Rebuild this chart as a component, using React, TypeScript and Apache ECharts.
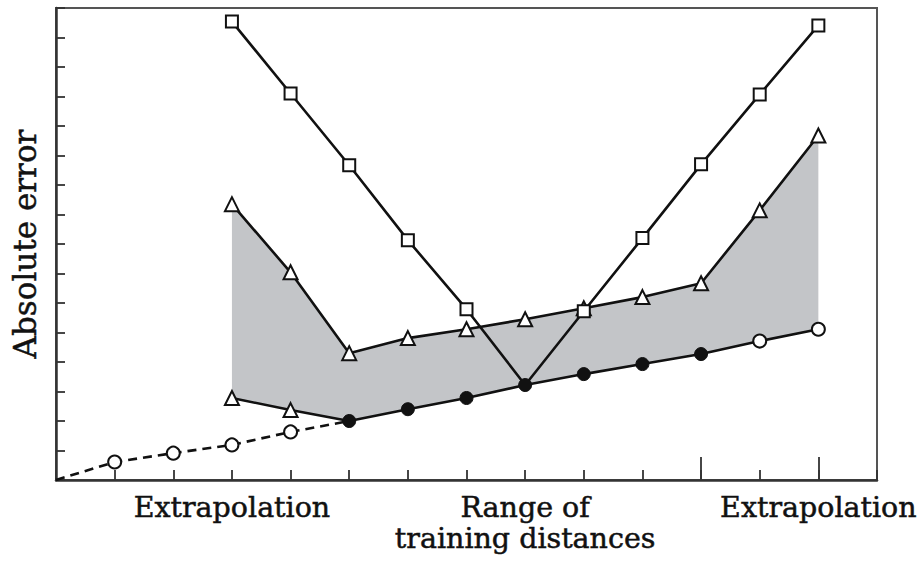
import React, { useEffect, useRef } from "react";
import * as echarts from "echarts";

// x positions: tick index 0..14, y: tick units 0..16
const xLabelValues = [3, 8, 13];
const xLabelTexts = ["Extrapolation", "Range of\ntraining distances", "Extrapolation"];
const longTickValues = [11, 13];

const dashedValues: [number, number][] = [
  [0, 0], [1, 0.61], [2, 0.91], [3, 1.19], [4, 1.63], [5, 2.0],
];
const lowerValues: [number, number][] = [
  [5, 2.0], [6, 2.4], [7, 2.78], [8, 3.22], [9, 3.59], [10, 3.93], [11, 4.27], [12, 4.71], [13, 5.11],
];
const lowerTriangleValues: [number, number][] = [
  [3, 2.78], [4, 2.37], [5, 2.0],
];
const upperTriangleValues: [number, number][] = [
  [3, 9.35], [4, 7.04], [5, 4.3], [6, 4.81], [7, 5.11], [8, 5.45], [9, 5.82], [10, 6.2], [11, 6.67], [12, 9.14], [13, 11.68],
];
const squareValues: [number, number][] = [
  [3, 15.54], [4, 13.1], [5, 10.67], [6, 8.13], [7, 5.79], [8, 3.22], [9, 5.72], [10, 8.2], [11, 10.7], [12, 13.07], [13, 15.41],
];

const INK = "#111";
const FONT = "DejaVu Serif";

export default function App() {
  const ref = useRef<HTMLDivElement>(null);
  useEffect(() => {
    document.body.style.margin = "0";
    if (!ref.current) return;
    const chart = echarts.init(ref.current, undefined, { renderer: "svg" });

    const bandLower: [number, number][] = [
      ...lowerTriangleValues.filter((p) => p[0] < 5),
      ...lowerValues,
    ];

    const lineBase = {
      type: "line" as const,
      xAxisIndex: 0,
      yAxisIndex: 0,
      lineStyle: { color: INK, width: 2.6 },
      itemStyle: { color: "#fff", borderColor: INK, borderWidth: 2 },
      symbolSize: 12,
      z: 3,
    };

    const textBold = { textBorderColor: "#111", textBorderWidth: 0.5 };

    chart.setOption({
      animation: false,
      grid: {
        left: 56,
        top: 8,
        right: 47,
        bottom: 81,
        show: true,
        borderColor: "#555",
        borderWidth: 2,
        backgroundColor: "transparent",
      },
      xAxis: [
        {
          type: "value",
          min: 0,
          max: 14,
          interval: 1,
          axisLine: { show: true, lineStyle: { color: "#333", width: 2.5 } },
          axisTick: { show: true, inside: true, length: 10, lineStyle: { color: "#333", width: 1.8 } },
          axisLabel: {
            show: true,
            customValues: xLabelValues,
            margin: 12,
            color: "#111",
            fontFamily: FONT,
            fontSize: 28.5,
            lineHeight: 31,
            ...textBold,
            formatter: (v: number) => {
              const i = xLabelValues.indexOf(v);
              return i >= 0 ? xLabelTexts[i] : "";
            },
          },
          splitLine: { show: false },
        },
        {
          type: "value",
          position: "bottom",
          min: 0,
          max: 14,
          axisLine: { show: false },
          axisTick: {
            show: true,
            inside: true,
            length: 23,
            customValues: longTickValues,
            lineStyle: { color: "#333", width: 1.8 },
          },
          axisLabel: { show: false },
          splitLine: { show: false },
        },
      ],
      yAxis: {
        type: "value",
        min: 0,
        max: 16,
        interval: 1,
        name: "Absolute error",
        nameLocation: "middle",
        nameRotate: 90,
        nameGap: 16,
        nameTextStyle: { color: "#111", fontFamily: FONT, fontSize: 31, ...textBold },
        axisLine: { show: true, lineStyle: { color: "#333", width: 2.5 } },
        axisTick: { show: true, inside: true, length: 9, lineStyle: { color: "#333", width: 1.8 } },
        axisLabel: { show: false },
        splitLine: { show: false },
      },
      series: [
        {
          name: "band",
          type: "custom",
          xAxisIndex: 0,
          yAxisIndex: 0,
          data: [[3, 0]],
          silent: true,
          z: 1,
          renderItem: (_params: any, api: any) => {
            const pts = [
              ...upperTriangleValues.map((p) => api.coord(p)),
              ...bandLower.slice().reverse().map((p) => api.coord(p)),
            ];
            return {
              type: "polygon",
              shape: { points: pts },
              style: { fill: "#c3c5c8", stroke: "none" },
            };
          },
        },
        {
          ...lineBase,
          name: "dashed",
          data: dashedValues.map((p, i) => ({
            value: p,
            symbol: i === 0 || i === dashedValues.length - 1 ? "none" : "circle",
          })),
          symbol: "circle",
          symbolSize: 13,
          lineStyle: { color: INK, width: 2.6, type: [9, 6] },
        },
        {
          ...lineBase,
          name: "lower-triangles",
          data: lowerTriangleValues.map((p, i) => ({
            value: p,
            symbol: i === lowerTriangleValues.length - 1 ? "none" : "triangle",
          })),
          symbol: "triangle",
          symbolSize: 14,
        },
        {
          ...lineBase,
          name: "upper-triangles",
          data: upperTriangleValues,
          symbol: "triangle",
          symbolSize: 14,
        },
        {
          ...lineBase,
          name: "squares",
          data: squareValues.map((p) => ({
            value: p,
            symbol: p[0] === 8 ? "none" : "rect",
          })),
          symbol: "rect",
          symbolSize: 12,
        },
        {
          ...lineBase,
          name: "lower",
          data: lowerValues.map((p) => ({
            value: p,
            itemStyle: p[0] >= 12
              ? { color: "#fff", borderColor: INK, borderWidth: 2 }
              : { color: INK, borderColor: INK, borderWidth: 1 },
          })),
          symbol: "circle",
          symbolSize: 13,
          z: 4,
        },
      ],
    });
    return () => chart.dispose();
  }, []);
  return <div ref={ref} style={{ width: 924, height: 561 }} />;
}
